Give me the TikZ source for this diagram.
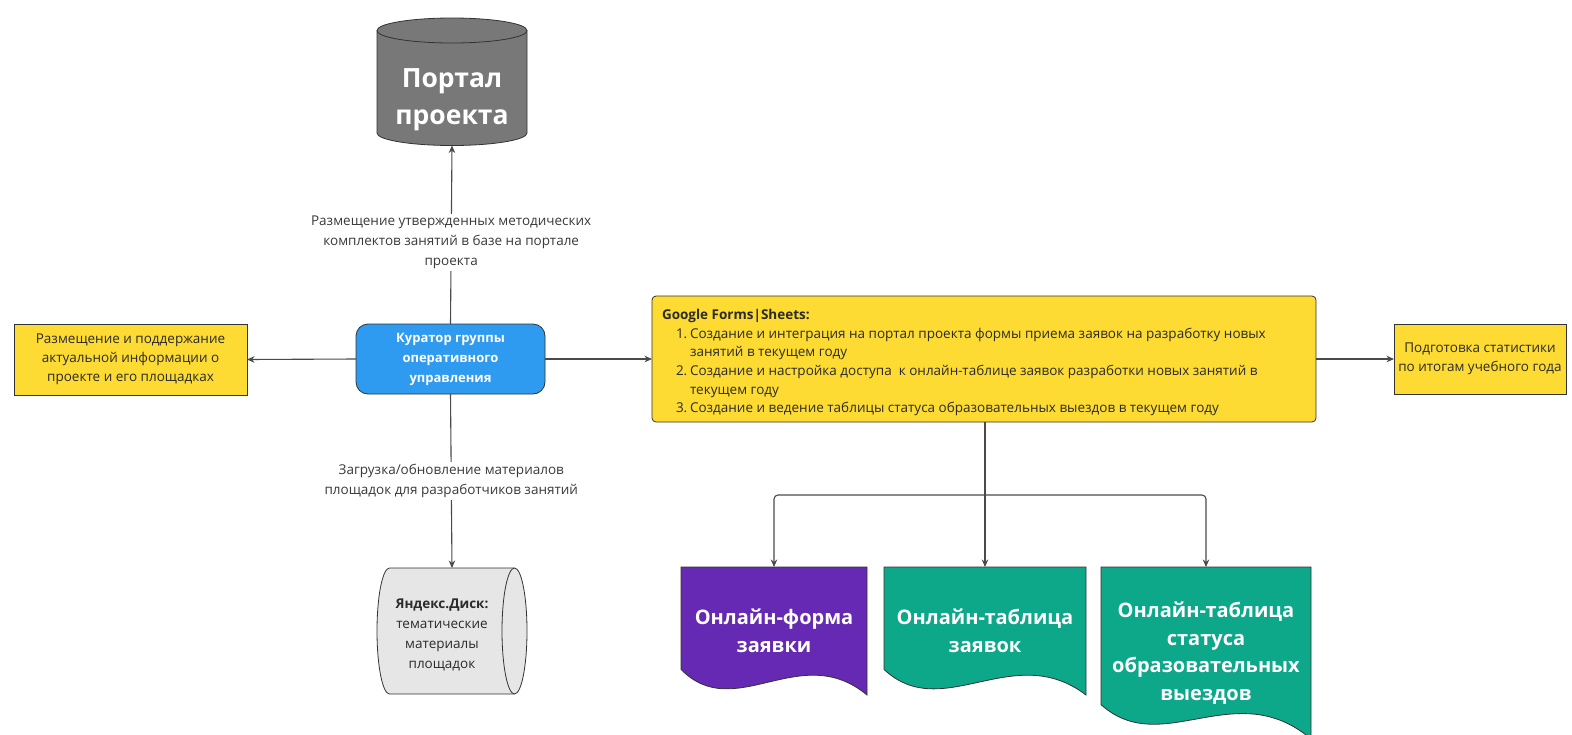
\documentclass[tikz,border=0pt]{standalone}
\usepackage{fontspec}
\setmainfont{Open Sans}
\usetikzlibrary{arrows.meta}

\definecolor{boxyellow}{HTML}{FDDB33}
\definecolor{curblue}{HTML}{2E9BF0}
\definecolor{docpurple}{HTML}{6529B4}
\definecolor{docteal}{HTML}{0DA789}
\definecolor{portalgray}{HTML}{787878}
\definecolor{diskgray}{HTML}{E6E6E6}
\definecolor{edgedark}{HTML}{333333}
\definecolor{linegray}{HTML}{4A4A4A}
\definecolor{txtdark}{HTML}{2B2B2B}
\definecolor{lblgray}{HTML}{3A3A3A}

% document shape with a wavy bottom: x0, x1, top, height, fill
\newcommand\wavydoc[5]{%
  \pgfmathsetmacro\wdw{#2-#1}%
  \pgfmathsetmacro\wdl{#3+0.8*#4}%
  \pgfmathsetmacro\wdr{#3+#4}%
  \filldraw[fill=#5, draw=edgedark, line width=0.8pt]
    (#1,\wdl) -- (#1,#3) -- (#2,#3) -- (#2,\wdr)
    .. controls (#1+0.64*\wdw, \wdl-30) and (#1+0.29*\wdw, \wdl+55) .. (#1,\wdl) -- cycle;
}

\begin{document}
\begin{tikzpicture}[x=1pt, y=-1pt,
  every node/.style={inner sep=0pt, outer sep=0pt},
  edge/.style={draw=linegray, line width=1.1pt, -{Stealth[length=7.5pt, width=6.5pt]}},
  plainline/.style={draw=linegray, line width=1.1pt},
  yellowbox/.style={rectangle, fill=boxyellow, draw=edgedark, line width=0.8pt,
    align=center, text=txtdark, font=\fontsize{13.5}{19}\selectfont},
  curbox/.style={rectangle, rounded corners=12pt, fill=curblue, draw=edgedark, line width=0.8pt,
    align=center, text=white, font=\bfseries\fontsize{13}{20}\selectfont},
  lbl/.style={fill=white, align=center, text=lblgray, inner sep=2pt,
    font=\fontsize{13.5}{20}\selectfont},
  doctext/.style={align=center, text=white, font=\bfseries\fontsize{20}{28.5}\selectfont},
]
\useasboundingbox (0,0) rectangle (1572,734);

% database cylinder of the portal
\filldraw[fill=portalgray, draw=edgedark, line width=0.8pt]
  (377,30.5) -- (377,133)
  arc[start angle=180, end angle=360, x radius=75pt, y radius=12.5pt]
  -- (527,30.5)
  arc[start angle=0, end angle=180, x radius=75pt, y radius=12.5pt] -- cycle;
\draw[draw=edgedark, line width=0.8pt]
  (377,30.5) arc[start angle=180, end angle=360, x radius=75pt, y radius=12.5pt];
\node[minimum width=150pt, minimum height=127pt] (portal) at (452,82) {};
\node[align=center, text=white, font=\bfseries\fontsize{26.5}{37}\selectfont]
  at ([yshift=-18pt]portal.center) {Портал\\проекта};

% storage drum of Yandex.Disk
\filldraw[fill=diskgray, draw=edgedark, line width=0.8pt]
  (389.5,568) -- (514.5,568)
  arc[start angle=90, end angle=-90, x radius=12.5pt, y radius=63pt]
  -- (389.5,694)
  arc[start angle=270, end angle=90, x radius=12.5pt, y radius=63pt] -- cycle;
\draw[draw=edgedark, line width=0.8pt]
  (514.5,568) arc[start angle=90, end angle=270, x radius=12.5pt, y radius=63pt];
\node[minimum width=150pt, minimum height=126pt] (yandex) at (452,631) {};
\node[align=center, text=txtdark, font=\fontsize{13.5}{20}\selectfont]
  at ([xshift=-10pt, yshift=-4pt]yandex.center)
  {\textbf{Яндекс.Диск:}\\тематические\\материалы\\площадок};

% online documents
\wavydoc{681}{867}{567}{128}{docpurple}
\wavydoc{884}{1086}{567}{128}{docteal}
\wavydoc{1101}{1311}{567}{172}{docteal}
\node[doctext, minimum width=186pt, minimum height=128pt] (docform) at (774,631)
  {Онлайн-форма\\заявки};
\node[doctext, minimum width=202pt, minimum height=128pt] (doctable) at (985,631)
  {Онлайн-таблица\\заявок};
\node[doctext, minimum width=210pt, minimum height=172pt,
  font=\bfseries\fontsize{20}{27.5}\selectfont] (docstatus) at (1206,653)
  {Онлайн-таблица\\статуса\\образовательных\\выездов};

% boxes of the middle row
\node[curbox, minimum width=189pt, minimum height=70pt] (curator) at (450.5,359)
  {Куратор группы\\оперативного\\управления};
\node[yellowbox, minimum width=233pt, minimum height=71pt] (info) at (130.5,359.5)
  {Размещение и поддержание\\актуальной информации о\\проекте и его площадках};
\node[yellowbox, minimum width=172pt, minimum height=70pt] (stats) at (1480,359)
  {Подготовка статистики\\по итогам учебного года};
\node[rectangle, rounded corners=4pt, fill=boxyellow, draw=edgedark, line width=0.8pt,
  minimum width=664pt, minimum height=126pt] (google) at (984,359) {};
\node[anchor=north west, align=left, text=txtdark,
  font=\fontsize{13.5}{18.6}\selectfont] at (662,309.5)
  {\textbf{Google Forms|Sheets:}\\
   \hspace*{14pt}\makebox[14pt][l]{1.}Создание и интеграция на портал проекта формы приема заявок на разработку новых\\
   \hspace*{28pt}занятий в текущем году\\
   \hspace*{14pt}\makebox[14pt][l]{2.}Создание и настройка доступа\ \ к онлайн-таблице заявок разработки новых занятий в\\
   \hspace*{28pt}текущем году\\
   \hspace*{14pt}\makebox[14pt][l]{3.}Создание и ведение таблицы статуса образовательных выездов в текущем году};

% connectors
\draw[edge] (curator.north) -- node[lbl, pos=0.455]
  {Размещение утвержденных методических\\комплектов занятий в базе на портале\\проекта} (portal.south);
\draw[edge] (curator.south) -- node[lbl, pos=0.50]
  {Загрузка/обновление материалов\\площадок для разработчиков занятий} (yandex.north);
\draw[edge] (curator.west) -- (info.east);
\draw[edge] (curator.east) -- (google.west);
\draw[edge] (google.east) -- (stats.west);

\coordinate (split) at (985,495);
\draw[plainline] (google.south -| split) -- (split);
\draw[edge] (split) -- (doctable.north);
\draw[edge, rounded corners=4pt] (split) -| (docform.north);
\draw[edge, rounded corners=4pt] (split) -| (docstatus.north);
\end{tikzpicture}
\end{document}
